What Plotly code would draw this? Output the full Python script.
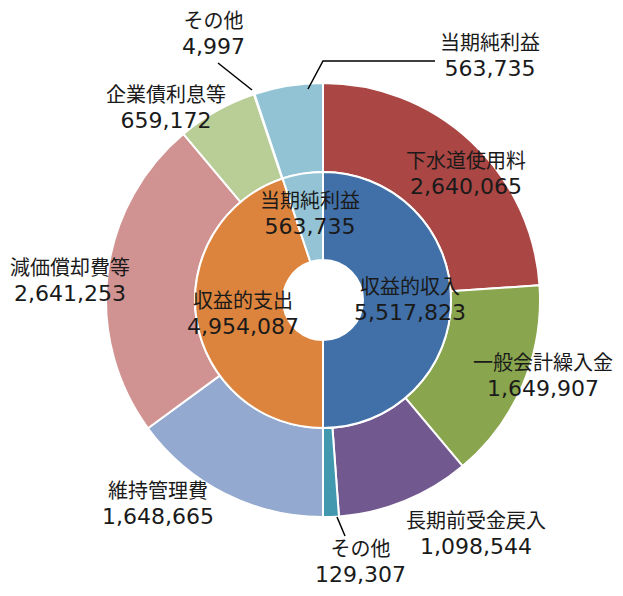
import plotly.graph_objects as go

# page is rendered with an 8px body margin, so the figure is 16px smaller
OFF = 8
W, H = 623 - 2 * OFF, 596 - 2 * OFF

# ---- data ----
inner_labels = ["収益的収入", "収益的支出", "当期純利益"]
inner_values = [5517823, 4954087, 563735]
inner_colors = ["#4170A8", "#DC843D", "#93C3D5"]

outer_labels = ["下水道使用料", "一般会計繰入金", "長期前受金戻入", "その他",
                "維持管理費", "減価償却費等", "企業債利息等", "その他", "当期純利益"]
outer_values = [2640065, 1649907, 1098544, 129307,
                1648665, 2641253, 659172, 4997, 563735]
outer_colors = ["#AA4644", "#89A54E", "#71588F", "#4198AF",
                "#93A9CF", "#D19392", "#B9CD96", "#A99BBD", "#92C3D5"]

cx, cy = 323, 300
R_out, R_mid, R_hole = 217, 128, 40


def px(x):
    return (x - OFF) / W


def py(y):
    return 1 - (y - OFF) / H


def dom(r):
    return dict(x=[px(cx - r), px(cx + r)], y=[py(cy + r), py(cy - r)])


fig = go.Figure()
fig.add_trace(go.Pie(
    labels=[f"o{i}" for i in range(len(outer_labels))], values=outer_values,
    text=outer_labels, hole=R_mid / R_out, domain=dom(R_out), sort=False,
    direction="clockwise", rotation=0, textinfo="none",
    marker=dict(colors=outer_colors, line=dict(color="white", width=2)),
    showlegend=False))
fig.add_trace(go.Pie(
    labels=[f"i{i}" for i in range(len(inner_labels))], values=inner_values,
    text=inner_labels, hole=R_hole / R_mid, domain=dom(R_mid), sort=False,
    direction="clockwise", rotation=0, textinfo="none",
    marker=dict(colors=inner_colors, line=dict(color="white", width=2)),
    showlegend=False))

FONT = "DejaVu Sans, Noto Sans CJK JP, sans-serif"


def label(name, val, x, y):
    fig.add_annotation(x=px(x), y=py(y), xref="paper", yref="paper",
                       xanchor="center", yanchor="middle",
                       text=f"{name}<br><span style='font-size:22px'>{val:,}</span>",
                       showarrow=False,
                       font=dict(family=FONT, size=20, color="#1a1a1a"),
                       align="center")


label(outer_labels[7], outer_values[7], 213, 34)
label(outer_labels[8], outer_values[8], 490, 56)
label(outer_labels[6], outer_values[6], 166, 108)
label(outer_labels[0], outer_values[0], 466, 174)
label(inner_labels[2], inner_values[2], 310, 214)
label(outer_labels[5], outer_values[5], 70, 281)
label(inner_labels[0], inner_values[0], 410, 300)
label(inner_labels[1], inner_values[1], 243, 314)
label(outer_labels[1], outer_values[1], 543, 376)
label(outer_labels[4], outer_values[4], 158, 504)
label(outer_labels[2], outer_values[2], 476, 534)
label(outer_labels[3], outer_values[3], 360, 562)


def seg(pts):
    path = "M " + " L ".join(f"{px(x)},{py(y)}" for x, y in pts)
    fig.add_shape(type="path", path=path, xref="paper", yref="paper",
                  line=dict(color="black", width=1.5))


seg([(218, 63), (252, 90)])
seg([(308, 89), (323, 61), (435, 61)])
seg([(337, 517), (345, 536)])

fig.update_layout(width=W, height=H, margin=dict(l=0, r=0, t=0, b=0),
                  paper_bgcolor="white", plot_bgcolor="white")
fig.write_html("out.html")
